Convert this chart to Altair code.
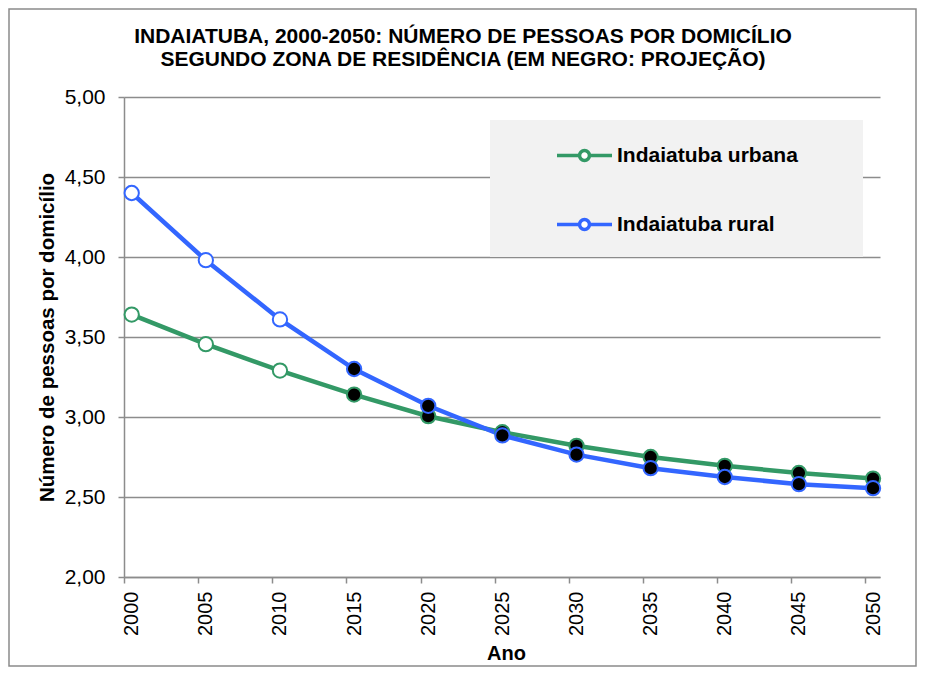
import altair as alt
import pandas as pd

# ---- data ----
anos = [2000, 2005, 2010, 2015, 2020, 2025, 2030, 2035, 2040, 2045, 2050]
urbana = [3.64, 3.455, 3.29, 3.14, 3.005, 2.905, 2.82, 2.75, 2.695, 2.65, 2.615]
rural = [4.40, 3.98, 3.61, 3.30, 3.07, 2.885, 2.765, 2.68, 2.625, 2.58, 2.555]
series = ["Indaiatuba urbana", "Indaiatuba rural"]
cores = ["#339966", "#3366FF"]
primeiro_ano_projecao = 2015
tipos = ["observado", "projeção"]
y_ticks = [2.0, 2.5, 3.0, 3.5, 4.0, 4.5, 5.0]
titulo = [
    "INDAIATUBA, 2000-2050: NÚMERO DE PESSOAS POR DOMICÍLIO",
    "SEGUNDO ZONA DE RESIDÊNCIA (EM NEGRO: PROJEÇÃO)",
]

rows = []
for nome, vals in zip(series, [urbana, rural]):
    for a, v in zip(anos, vals):
        rows.append({
            "ano": a,
            "valor": v,
            "serie": nome,
            "tipo": tipos[0] if a < primeiro_ano_projecao else tipos[1],
        })
df = pd.DataFrame(rows)
one = pd.DataFrame({"k": [0]})

FONT = "Liberation Sans"
GRID = "#8c8c8c"
W, H = 756, 480

x = alt.X(
    "ano:Q",
    scale=alt.Scale(domain=[1999.48, 2050.47], nice=False, zero=False),
    axis=alt.Axis(
        values=anos, format="d", labelAngle=270, labelAlign="right",
        labelBaseline="middle", labelFontSize=20, labelFont=FONT,
        labelColor="black", labelPadding=8, tickSize=6, tickColor=GRID,
        tickWidth=1.5, tickOffset=-7.7, labelOffset=7.7, domainColor=GRID,
        domainWidth=1.5, grid=False, title="Ano", titleFont=FONT,
        titleFontSize=20, titleFontWeight="bold", titleColor="black",
        titleX=382, titleY=82, titleBaseline="alphabetic", titleAlign="center",
    ),
)
y = alt.Y(
    "valor:Q",
    scale=alt.Scale(domain=[2, 5], nice=False, zero=False),
    axis=alt.Axis(
        values=y_ticks,
        labelExpr="replace(format(datum.value, '.2f'), '.', ',')",
        labelFontSize=21, labelFont=FONT, labelColor="black", labelPadding=13,
        tickSize=6, tickColor=GRID, tickWidth=1.5, domainColor=GRID,
        domainWidth=1.5, grid=True, gridColor=GRID, gridWidth=1.5,
        title="Número de pessoas por domicílio", titleFont=FONT,
        titleFontSize=20.5, titleFontWeight="bold", titleColor="black",
        titleX=-71, titleY=240, titleAngle=270, titleBaseline="alphabetic",
        titleAlign="center",
    ),
)

legend_path = ("M-1,0L-0.18,0M0.18,0L1,0M0.18,0A0.18,0.18,0,1,1,-0.18,0"
               "A0.18,0.18,0,1,1,0.18,0Z")

border = alt.Chart(one).mark_rect(
    fillOpacity=0, stroke="#8a8a8a", strokeWidth=1.5
).encode(x=alt.value(-115), x2=alt.value(792), y=alt.value(-88), y2=alt.value(569))

legend_bg = alt.Chart(one).mark_rect(fill="#f2f2f2").encode(
    x=alt.value(366), x2=alt.value(739), y=alt.value(23), y2=alt.value(160)
)

title = alt.Chart(one).mark_text(
    text=titulo, font=FONT, fontSize=21, fontWeight="bold", color="black",
    align="center", baseline="alphabetic", lineHeight=23,
).encode(x=alt.value(339), y=alt.value(-54))

lines = alt.Chart(df).mark_line(strokeWidth=4.5).encode(
    x=x, y=y,
    color=alt.Color(
        "serie:N", scale=alt.Scale(domain=series, range=cores),
        legend=alt.Legend(
            orient="none", legendX=431, legendY=29, direction="vertical",
            title=None, symbolType=legend_path, symbolSize=3025,
            symbolStrokeWidth=3.5, symbolFillColor="white", symbolOpacity=1,
            labelFont=FONT, labelFontSize=21, labelFontWeight="bold",
            labelColor="black", labelOffset=3, rowPadding=27, padding=0,
            labelLimit=400,
        ),
    ),
)

points = alt.Chart(df).mark_point(
    shape="circle", size=205, strokeWidth=2, opacity=1, fillOpacity=1
).encode(
    x=x, y=y,
    stroke=alt.Stroke("serie:N", scale=alt.Scale(domain=series, range=cores), legend=None),
    fill=alt.Fill("tipo:N", scale=alt.Scale(domain=tipos, range=["white", "black"]), legend=None),
)

chart = alt.layer(border, legend_bg, title, lines, points).properties(
    width=W, height=H,
    autosize=alt.AutoSizeParams(type="none"),
    padding={"left": 116, "top": 89, "right": 37, "bottom": 90},
    background="white",
).configure_view(stroke="transparent")

chart.save("out.html", embed_options={"renderer": "svg", "actions": False})
